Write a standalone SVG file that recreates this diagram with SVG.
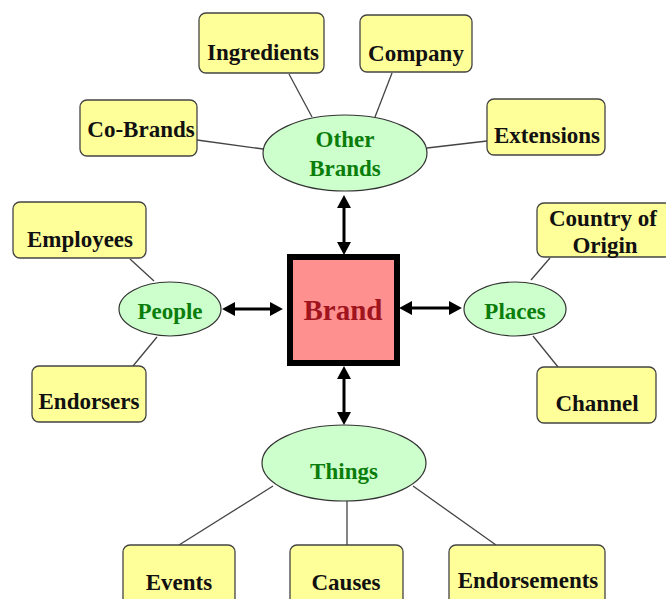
<svg xmlns="http://www.w3.org/2000/svg" width="666" height="599" viewBox="0 0 666 599">
<defs>
<style>
.box{fill:#ffff99;stroke:#444;stroke-width:1.3}
.ell{fill:#ccffcc;stroke:#333;stroke-width:1.2}
.bt{font-family:"Liberation Serif",serif;font-weight:bold;font-size:23px;fill:#111;text-anchor:middle}
.et{font-family:"Liberation Serif",serif;font-weight:bold;font-size:23px;fill:#0a7d0a;text-anchor:middle}
.ln{stroke:#444;stroke-width:1.3;fill:none}
.ar{stroke:#000;stroke-width:3;fill:none;marker-start:url(#ah);marker-end:url(#ah)}
</style>
<marker id="ah" markerUnits="userSpaceOnUse" markerWidth="14" markerHeight="14" refX="0" refY="6.5" orient="auto-start-reverse" viewBox="0 0 13 13">
<path d="M0,0 L12,6.5 L0,13 z" fill="#000"/>
</marker>
</defs>
<rect width="666" height="599" fill="#fff"/>
<g id="connectors">
<line class="ln" x1="289" y1="74" x2="312" y2="117"/>
<line class="ln" x1="392" y1="73" x2="375" y2="117"/>
<line class="ln" x1="197" y1="140" x2="263" y2="149"/>
<line class="ln" x1="427" y1="148" x2="487" y2="141"/>
<line class="ln" x1="130" y1="259" x2="154" y2="281"/>
<line class="ln" x1="157" y1="337" x2="133" y2="366"/>
<line class="ln" x1="550" y1="258" x2="531" y2="280"/>
<line class="ln" x1="533" y1="336" x2="558" y2="367"/>
<line class="ln" x1="273" y1="486" x2="179" y2="545"/>
<line class="ln" x1="347" y1="501" x2="347" y2="545"/>
<line class="ln" x1="413" y1="486" x2="496" y2="545"/>
<line class="ar" x1="235" y1="309" x2="270" y2="309"/>
<line class="ar" x1="412" y1="308" x2="449" y2="308"/>
<line class="ar" x1="344" y1="208" x2="344" y2="242"/>
<line class="ar" x1="344" y1="379" x2="344" y2="412"/>
</g>
<g id="brand">
<rect x="290" y="257" width="107" height="106" fill="#ff9090" stroke="#000" stroke-width="6"/>
<text x="343" y="320" font-family="Liberation Serif,serif" font-weight="bold" font-size="29" fill="#a0141e" text-anchor="middle">Brand</text>
</g>
<g id="other-brands">
<ellipse class="ell" cx="345" cy="153" rx="82" ry="38"/>
<text class="et" x="345" y="147">Other</text>
<text class="et" x="345" y="176">Brands</text>
</g>
<g id="people">
<ellipse class="ell" cx="170" cy="309" rx="51" ry="27"/>
<text class="et" x="170" y="319">People</text>
</g>
<g id="places">
<ellipse class="ell" cx="515" cy="309" rx="51" ry="27"/>
<text class="et" x="515" y="319">Places</text>
</g>
<g id="things">
<ellipse class="ell" cx="344" cy="463" rx="82" ry="38"/>
<text class="et" x="344" y="479">Things</text>
</g>
<g id="ingredients">
<rect class="box" x="199" y="13" width="125" height="60" rx="7"/>
<text class="bt" x="263" y="60">Ingredients</text>
</g>
<g id="company">
<rect class="box" x="360" y="15" width="112" height="57" rx="7"/>
<text class="bt" x="416" y="61">Company</text>
</g>
<g id="co-brands">
<rect class="box" x="80" y="100" width="117" height="56" rx="7"/>
<text class="bt" x="141" y="137">Co-Brands</text>
</g>
<g id="extensions">
<rect class="box" x="487" y="99" width="118" height="56" rx="7"/>
<text class="bt" x="547" y="143">Extensions</text>
</g>
<g id="employees">
<rect class="box" x="13" y="202" width="133" height="56" rx="7"/>
<text class="bt" x="80" y="247">Employees</text>
</g>
<g id="endorsers">
<rect class="box" x="32" y="366" width="114" height="56" rx="7"/>
<text class="bt" x="89" y="409">Endorsers</text>
</g>
<g id="country-of-origin">
<rect class="box" x="537" y="203" width="135" height="54" rx="7"/>
<text class="bt" x="603" y="226">Country of</text>
<text class="bt" x="605" y="253">Origin</text>
</g>
<g id="channel">
<rect class="box" x="537" y="367" width="119" height="56" rx="7"/>
<text class="bt" x="597" y="411">Channel</text>
</g>
<g id="events">
<rect class="box" x="123" y="545" width="112" height="70" rx="7"/>
<text class="bt" x="179" y="590">Events</text>
</g>
<g id="causes">
<rect class="box" x="290" y="545" width="113" height="70" rx="7"/>
<text class="bt" x="346" y="590">Causes</text>
</g>
<g id="endorsements">
<rect class="box" x="449" y="545" width="156" height="70" rx="7"/>
<text class="bt" x="528" y="588">Endorsements</text>
</g>
</svg>
